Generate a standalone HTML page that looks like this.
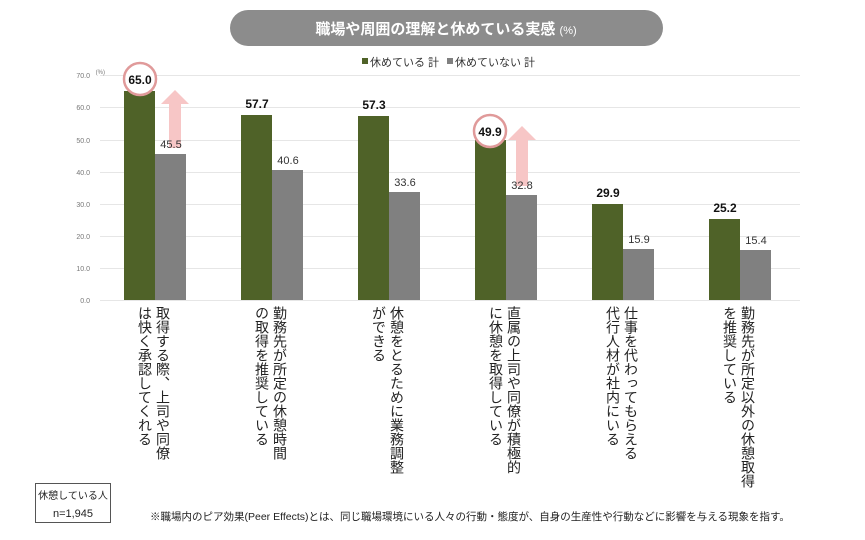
<!DOCTYPE html>
<html><head><meta charset="utf-8"><style>
body{margin:0;width:865px;height:540px;background:#fff;font-family:"Liberation Sans","Noto Sans CJK JP",sans-serif;position:relative;overflow:hidden}
.lbl{position:absolute;top:306px;writing-mode:vertical-rl;font-size:14px;line-height:18px;color:#222;white-space:pre}
</style></head><body>
<svg width="865" height="540" style="position:absolute;left:0;top:0" font-family="Liberation Sans, Noto Sans CJK JP, sans-serif">
<rect x="230" y="10" width="433" height="36" rx="18" fill="#8c8c8c"/>
<text x="446" y="34" font-size="15" font-weight="bold" fill="#fff" text-anchor="middle">職場や周囲の理解と休めている実感 <tspan font-size="11" font-weight="normal">(%)</tspan></text>
<rect x="362" y="58" width="6" height="6" fill="#4f6228"/><text x="370" y="66" font-size="11" fill="#333">休めている 計</text>
<rect x="447" y="58" width="6" height="6" fill="#808080"/><text x="455" y="66" font-size="11" fill="#333">休めていない 計</text>
<g stroke="#e6e6e6" stroke-width="1">
<line x1="100" y1="75.5" x2="800" y2="75.5"/><line x1="100" y1="107.5" x2="800" y2="107.5"/><line x1="100" y1="140.5" x2="800" y2="140.5"/><line x1="100" y1="172.5" x2="800" y2="172.5"/><line x1="100" y1="204.5" x2="800" y2="204.5"/><line x1="100" y1="236.5" x2="800" y2="236.5"/><line x1="100" y1="268.5" x2="800" y2="268.5"/><line x1="100" y1="300.5" x2="800" y2="300.5"/>
</g>
<g font-size="7" fill="#777" text-anchor="end">
<text x="90" y="78">70.0</text><text x="90" y="110">60.0</text><text x="90" y="143">50.0</text><text x="90" y="175">40.0</text><text x="90" y="207">30.0</text><text x="90" y="239">20.0</text><text x="90" y="271">10.0</text><text x="90" y="303">0.0</text>
<text x="105" y="74" font-size="6">(%)</text>
</g>
<g fill="#4f6228">
<rect x="124" y="91" width="31" height="209"/><rect x="241" y="115" width="31" height="185"/><rect x="358" y="116" width="31" height="184"/><rect x="475" y="140" width="31" height="160"/><rect x="592" y="204" width="31" height="96"/><rect x="709" y="219" width="31" height="81"/>
</g>
<g fill="#808080">
<rect x="155" y="154" width="31" height="146"/><rect x="272" y="170" width="31" height="130"/><rect x="389" y="192" width="31" height="108"/><rect x="506" y="195" width="31" height="105"/><rect x="623" y="249" width="31" height="51"/><rect x="740" y="250" width="31" height="50"/>
</g>
<g fill="#f7c6c6">
<polygon points="175,90 189,104 181,104 181,148 169,148 169,104 161,104"/>
<polygon points="522,126 536,140 528,140 528,186 516,186 516,140 508,140"/>
</g>
<circle cx="140" cy="79" r="16" fill="#fff" stroke="#e09a9a" stroke-width="2.5"/>
<circle cx="490" cy="131" r="16" fill="#fff" stroke="#e09a9a" stroke-width="2.5"/>
<g font-size="12" font-weight="bold" fill="#111" text-anchor="middle">
<text x="140" y="84">65.0</text><text x="257" y="108">57.7</text><text x="374" y="109">57.3</text><text x="490" y="136">49.9</text><text x="608" y="197">29.9</text><text x="725" y="212">25.2</text>
</g>
<g font-size="11" fill="#333" text-anchor="middle">
<text x="171" y="148">45.5</text><text x="288" y="164">40.6</text><text x="405" y="186">33.6</text><text x="522" y="189">32.8</text><text x="639" y="243">15.9</text><text x="756" y="244">15.4</text>
</g>
<rect x="35.5" y="483.5" width="75" height="39" fill="#fff" stroke="#555"/>
<text x="73" y="499" font-size="10" fill="#222" text-anchor="middle">休憩している人</text>
<text x="73" y="517" font-size="11" fill="#222" text-anchor="middle">n=1,945</text>
<text x="150" y="520" font-size="10.5" fill="#222">※職場内のピア効果(Peer Effects)とは、同じ職場環境にいる人々の行動・態度が、自身の生産性や行動などに影響を与える現象を指す。</text>
</svg>
<div class="lbl" style="left:136px">取得する際、上司や同僚
は快く承認してくれる</div>
<div class="lbl" style="left:253px">勤務先が所定の休憩時間
の取得を推奨している</div>
<div class="lbl" style="left:370px">休憩をとるために業務調整
ができる</div>
<div class="lbl" style="left:487px">直属の上司や同僚が積極的
に休憩を取得している</div>
<div class="lbl" style="left:604px">仕事を代わってもらえる
代行人材が社内にいる</div>
<div class="lbl" style="left:721px">勤務先が所定以外の休憩取得
を推奨している</div>
</body></html>
